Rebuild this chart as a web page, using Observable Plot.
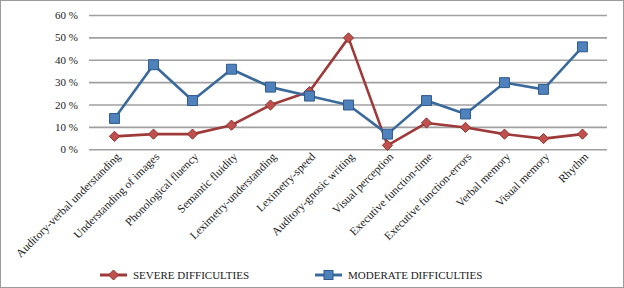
<!DOCTYPE html>
<html>
<head>
<meta charset="utf-8">
<script src="https://cdn.jsdelivr.net/npm/d3@7"></script>
<script src="https://cdn.jsdelivr.net/npm/@observablehq/plot@0.6"></script>
<style>
  html, body { margin: 0; padding: 0; background: #fff; }
  #frame {
    position: relative; width: 622px; height: 286px;
    border: 1px solid #9a9a9a; overflow: hidden; background: #fff;
    font-family: "Liberation Serif", "Times New Roman", serif;
  }
  #chart { position: absolute; left: 0; top: 0; }
  .leg { position: absolute; top: 266px; height: 16px; display: flex; align-items: center;
         font-family: "Liberation Serif", serif; font-size: 11px; color: #1a1a1a; white-space: nowrap; }
  .leg svg { margin-right: 6px; }
</style>
</head>
<body>
<div id="frame">
  <div id="chart"></div>
  <div class="leg" id="leg1" style="left:99px"></div>
  <div class="leg" id="leg2" style="left:314px"></div>
</div>
<script>
const categories = [
  "Auditory-verbal understanding", "Understanding of images", "Phonological fluency",
  "Semantic fluidity", "Leximetry-understanding", "Leximetry-speed",
  "Auditory-gnosic writing", "Visual perception", "Executive function-time",
  "Executive function-errors", "Verbal memory", "Visual memory", "Rhythm"
];
const severe   = [6, 7, 7, 11, 20, 26, 50, 2, 12, 10, 7, 5, 7];
const moderate = [14, 38, 22, 36, 28, 24, 20, 7, 22, 16, 30, 27, 46];
const yTicks = [0, 10, 20, 30, 40, 50, 60];
const seriesNames = ["SEVERE DIFFICULTIES", "MODERATE DIFFICULTIES"];

const redLine = "#9e3a3a", redFill = "#c0504d", redEdge = "#8c3533";
const blueLine = "#3a6a9c", blueFill = "#4f81bd", blueEdge = "#2f5a8a";

const sev = categories.map((c, i) => ({cat: c, v: severe[i]}));
const mod = categories.map((c, i) => ({cat: c, v: moderate[i]}));

const chart = Plot.plot({
  width: 622,
  height: 262,
  marginLeft: 88,
  marginRight: 16,
  marginTop: 14,
  marginBottom: 113.7,
  style: {fontFamily: "Liberation Serif, serif", fontSize: "11px", color: "#1a1a1a", background: "transparent"},
  x: {type: "point", domain: categories, padding: 0.5, label: null},
  y: {domain: [0, 60], label: null},
  marks: [
    Plot.ruleY(yTicks, {stroke: "#a0a0a0", strokeWidth: 1.6}),
    Plot.axisY({ticks: yTicks, tickSize: 0, tickPadding: 11.5, tickFormat: d => d + " %", fontSize: 11}),
    Plot.axisX({tickSize: 0, tickRotate: -45, tickPadding: 5, dx: 4, fontSize: 11.5}),
    Plot.line(sev, {x: "cat", y: "v", stroke: redLine, strokeWidth: 2.6}),
    Plot.dot(sev, {x: "cat", y: "v", symbol: "diamond2", r: 4.6, fill: redFill, stroke: redEdge, strokeWidth: 1}),
    Plot.line(mod, {x: "cat", y: "v", stroke: blueLine, strokeWidth: 2.6}),
    Plot.dot(mod, {x: "cat", y: "v", symbol: "square", r: 5.6, fill: blueFill, stroke: blueEdge, strokeWidth: 1})
  ]
});
document.getElementById("chart").appendChild(chart);

function swatch(kind, line, fill, edge) {
  const ns = "http://www.w3.org/2000/svg";
  const s = document.createElementNS(ns, "svg");
  s.setAttribute("width", 27); s.setAttribute("height", 14);
  const l = document.createElementNS(ns, "line");
  l.setAttribute("x1", 0); l.setAttribute("x2", 27); l.setAttribute("y1", 7); l.setAttribute("y2", 7);
  l.setAttribute("stroke", line); l.setAttribute("stroke-width", 3);
  s.appendChild(l);
  let m;
  if (kind === "diamond") {
    m = document.createElementNS(ns, "path");
    m.setAttribute("d", "M13.5,2 L18.5,7 L13.5,12 L8.5,7 Z");
  } else {
    m = document.createElementNS(ns, "rect");
    m.setAttribute("x", 9); m.setAttribute("y", 2.5); m.setAttribute("width", 9); m.setAttribute("height", 9);
  }
  m.setAttribute("fill", fill); m.setAttribute("stroke", edge); m.setAttribute("stroke-width", 1);
  s.appendChild(m);
  return s;
}
const l1 = document.getElementById("leg1");
l1.appendChild(swatch("diamond", redLine, redFill, redEdge));
l1.appendChild(document.createTextNode(seriesNames[0]));
const l2 = document.getElementById("leg2");
l2.appendChild(swatch("square", blueLine, blueFill, blueEdge));
l2.appendChild(document.createTextNode(seriesNames[1]));
</script>
</body>
</html>
